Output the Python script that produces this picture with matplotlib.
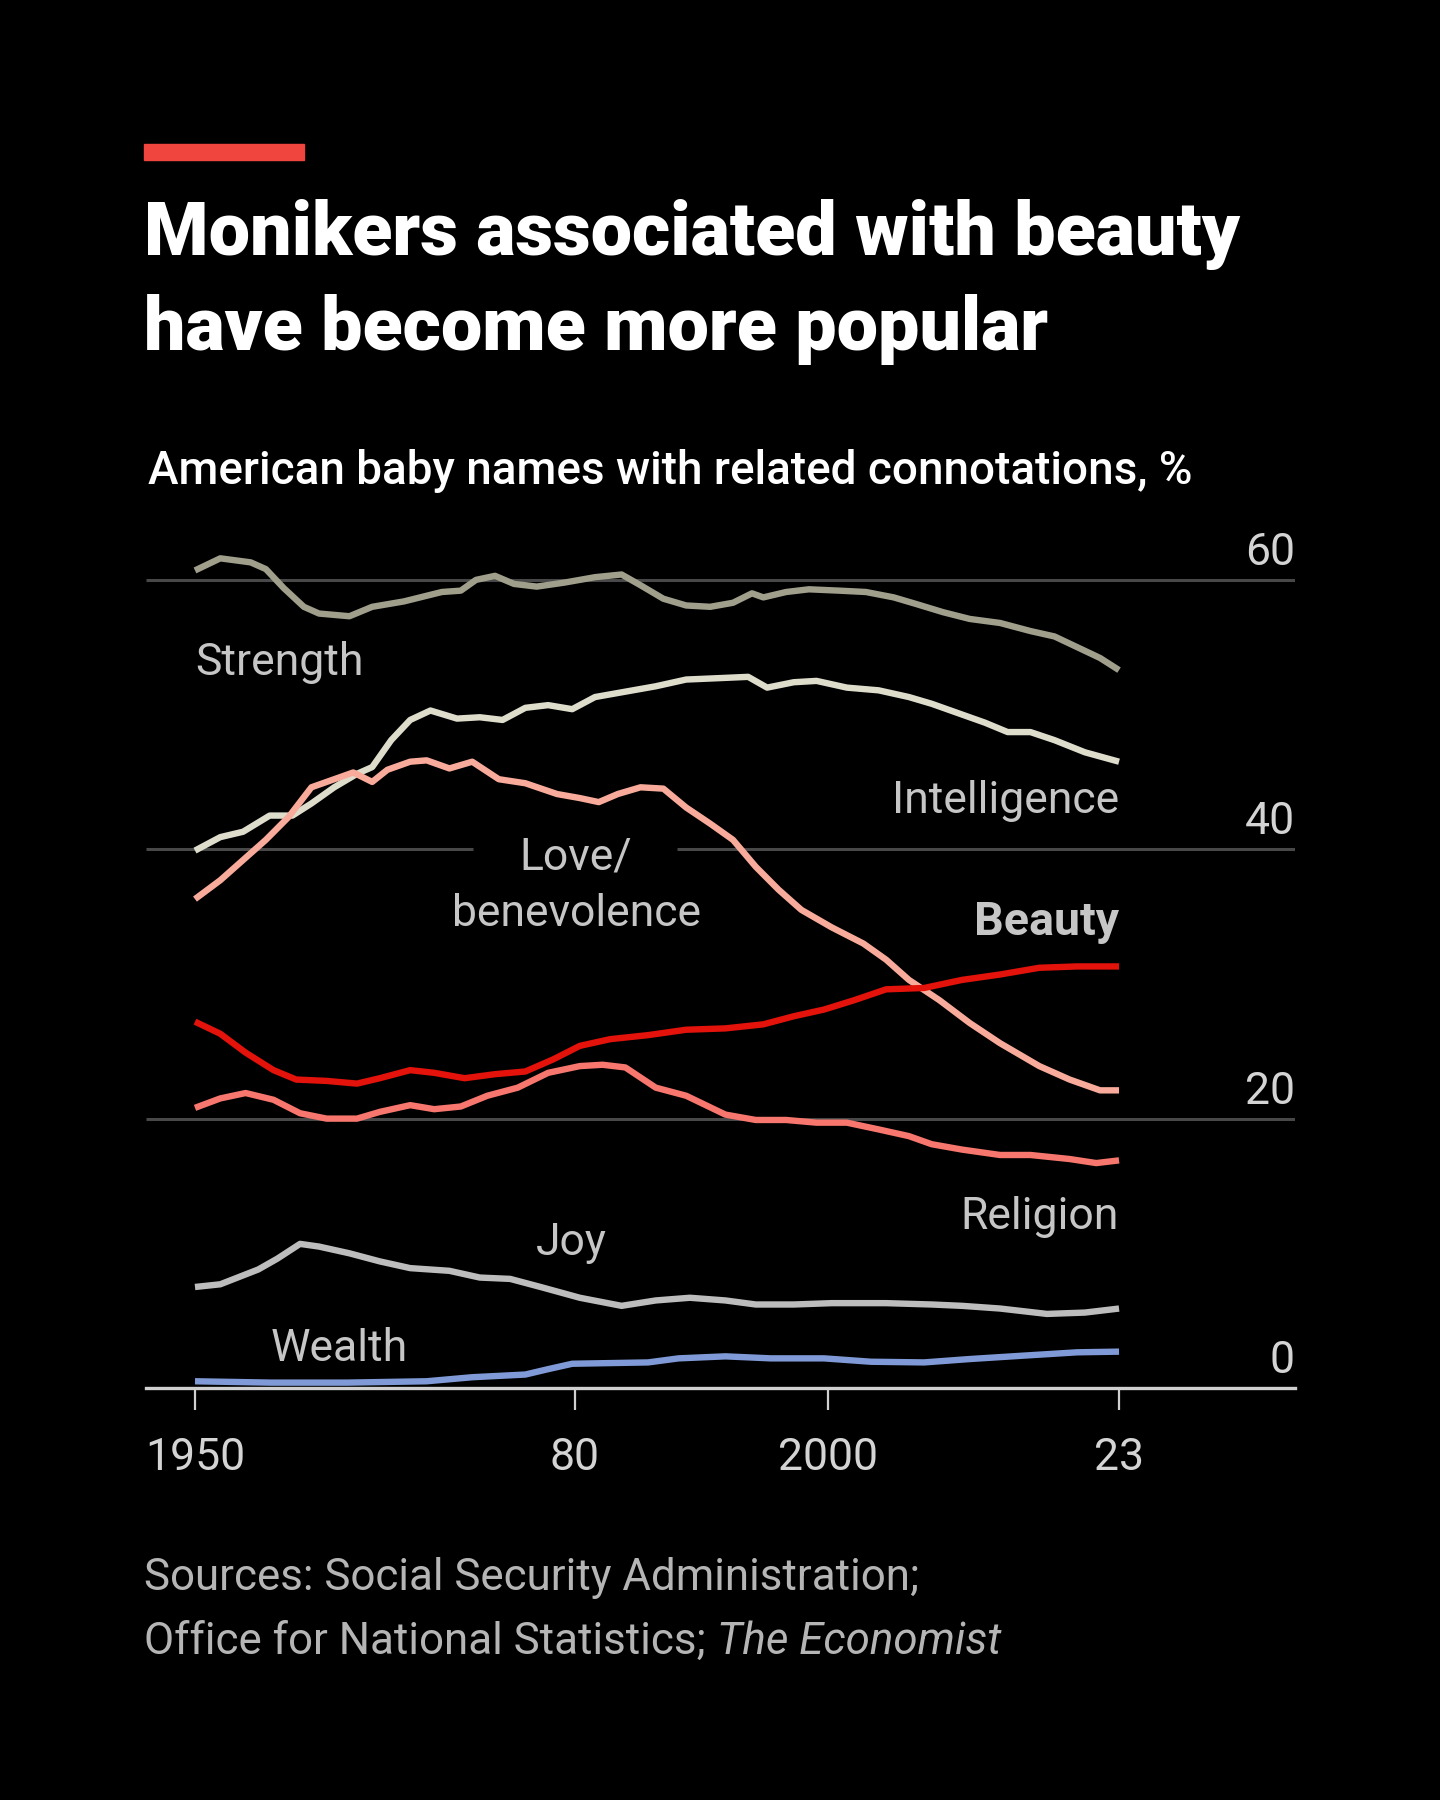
import matplotlib
matplotlib.use("Agg")
import matplotlib.pyplot as plt

# data (% of American baby names)
strength_yr = [1950, 1952, 1954.4, 1955.6, 1957, 1958.6, 1959.8, 1962.2, 1964, 1966.5, 1969.5, 1971,
               1972.2, 1973.7, 1975.2, 1977, 1979.2, 1981.6, 1983.7, 1985.2, 1987, 1988.8, 1990.7,
               1992.5, 1994, 1994.9, 1996.7, 1998.5, 2000.9, 2003, 2005.2, 2007, 2009.1, 2011.2,
               2013.6, 2016, 2017.9, 2019.7, 2021.5, 2023]
strength = [60.7, 61.6, 61.3, 60.8, 59.4, 58.0, 57.5, 57.3, 58.0, 58.4, 59.1, 59.2, 60.0, 60.3, 59.7,
            59.5, 59.8, 60.2, 60.4, 59.6, 58.6, 58.1, 58.0, 58.3, 59.0, 58.7, 59.1, 59.3, 59.2, 59.1,
            58.7, 58.2, 57.6, 57.1, 56.8, 56.2, 55.8, 55.0, 54.2, 53.3]

intel_yr = [1950, 1952, 1953.8, 1955.9, 1957.7, 1959.2, 1961, 1962.8, 1964, 1965.5, 1967, 1968.6,
            1970.7, 1972.5, 1974.3, 1976.1, 1977.9, 1979.8, 1981.6, 1984, 1986.4, 1988.8, 1991.3,
            1993.7, 1995.2, 1997.3, 1999.1, 2001.5, 2004, 2006.4, 2008.2, 2010, 2012.4, 2014.2,
            2016, 2017.9, 2020.3, 2023]
intel = [39.9, 40.9, 41.3, 42.5, 42.5, 43.4, 44.6, 45.6, 46.1, 48.1, 49.6, 50.3, 49.7, 49.8, 49.6,
         50.5, 50.7, 50.4, 51.3, 51.7, 52.1, 52.6, 52.7, 52.8, 52.0, 52.4, 52.5, 52.0, 51.8, 51.3,
         50.8, 50.2, 49.4, 48.7, 48.7, 48.1, 47.2, 46.5]

love_yr = [1950, 1952, 1953.8, 1955.6, 1957.4, 1959.2, 1961, 1962.5, 1964, 1965.2, 1967, 1968.3,
           1970.1, 1971.9, 1974, 1976.1, 1978.6, 1980.4, 1981.9, 1983.4, 1985.2, 1987, 1988.8,
           1990.7, 1992.5, 1994.3, 1996.1, 1997.9, 2000.3, 2002.8, 2004.6, 2006.4, 2008.8,
           2011.2, 2013.6, 2016.7, 2019.1, 2021.5, 2023]
love = [36.3, 37.7, 39.2, 40.7, 42.4, 44.6, 45.2, 45.7, 45.0, 45.9, 46.5, 46.6, 46.0, 46.5, 45.2,
        44.9, 44.1, 43.8, 43.5, 44.1, 44.6, 44.5, 43.1, 41.9, 40.7, 38.7, 37.0, 35.5, 34.2, 33.0,
        31.8, 30.3, 28.8, 27.1, 25.6, 23.9, 22.9, 22.1, 22.1]

beauty_yr = [1950, 1952, 1954, 1956.2, 1958, 1960.4, 1962.8, 1964.6, 1967, 1968.9, 1971.3, 1973.7,
             1976.1, 1978.3, 1980.4, 1982.8, 1985.8, 1988.8, 1991.9, 1994.9, 1997.3, 1999.7,
             2002.1, 2004.6, 2007.6, 2010.6, 2013.6, 2016.7, 2019.7, 2023]
beauty = [27.2, 26.3, 24.9, 23.6, 22.9, 22.8, 22.6, 23.0, 23.6, 23.4, 23.0, 23.3, 23.5, 24.4, 25.4,
          25.9, 26.2, 26.6, 26.7, 27.0, 27.6, 28.1, 28.8, 29.6, 29.7, 30.3, 30.7, 31.2, 31.3, 31.3]

relig_yr = [1950, 1952, 1954, 1956.2, 1958.3, 1960.4, 1962.8, 1964.6, 1967, 1968.9, 1971, 1973.1,
            1975.5, 1977.9, 1980.4, 1982.2, 1984, 1986.4, 1988.8, 1991.9, 1994.3, 1996.7, 1999.1,
            2001.5, 2004, 2006.4, 2008.2, 2010.6, 2013.6, 2016, 2019.1, 2021.2, 2023]
relig = [20.8, 21.5, 21.9, 21.4, 20.4, 20.0, 20.0, 20.5, 21.0, 20.7, 20.9, 21.7, 22.3, 23.4, 23.9,
         24.0, 23.8, 22.3, 21.7, 20.3, 19.9, 19.9, 19.7, 19.7, 19.2, 18.7, 18.1, 17.7, 17.3, 17.3,
         17.0, 16.7, 16.9]

joy_yr = [1950, 1952, 1955, 1956.5, 1958.3, 1959.8, 1962.2, 1964.6, 1967, 1970.1, 1972.5, 1974.9,
          1977.3, 1980.4, 1983.7, 1986.4, 1989.1, 1991.9, 1994.3, 1997.3, 2000.3, 2004.6, 2008.2,
          2010.6, 2013.6, 2017.3, 2020.3, 2023]
joy = [7.5, 7.7, 8.8, 9.6, 10.7, 10.5, 10.0, 9.4, 8.9, 8.7, 8.2, 8.1, 7.5, 6.7, 6.1, 6.5, 6.7, 6.5,
       6.2, 6.2, 6.3, 6.3, 6.2, 6.1, 5.9, 5.5, 5.6, 5.9]

wealth_yr = [1950, 1956, 1962, 1968.3, 1971.9, 1976.1, 1977.9, 1979.8, 1982.8, 1985.8, 1988.2,
             1991.9, 1995.5, 1999.7, 2003.4, 2007.6, 2011.2, 2015.4, 2019.7, 2023]
wealth = [0.5, 0.4, 0.4, 0.5, 0.8, 1.0, 1.4, 1.8, 1.85, 1.9, 2.2, 2.35, 2.2, 2.2, 1.95, 1.9, 2.15,
          2.4, 2.65, 2.7]

y_ticks = [0, 20, 40, 60]
x_ticks = [1950, 1980, 2000, 2023]
x_ticklabels = ["1950", "80", "2000", "23"]

NARROW = ["Roboto", "DejaVu Sans"]
BOLD = ["Roboto", "Inter", "DejaVu Sans"]
BG = "#000000"
W, H = 1440, 1800


def fx(px):
    return px / W


def fy(py):
    return 1 - py / H


def main():
    fig = plt.figure(figsize=(14.4, 18), dpi=100, facecolor=BG)

    # red tag and headings
    fig.patches.append(plt.Rectangle((fx(144), fy(160)), fx(304) - fx(144), 16 / H,
                                     transform=fig.transFigure, color="#f0443e"))
    fig.text(fx(144), fy(255), "Monikers associated with beauty", color="white",
             fontsize=53, fontweight="heavy", family=BOLD, va="baseline")
    fig.text(fx(144), fy(350), "have become more popular", color="white",
             fontsize=53, fontweight="heavy", family=BOLD, va="baseline")
    fig.text(fx(148), fy(484), "American baby names with related connotations, %", color="white",
             fontsize=33, fontweight="medium", family=BOLD, va="baseline")

    # plot area
    ax = fig.add_axes([fx(146), fy(1388), fx(1295) - fx(146), (1388 - 526) / H])
    ax.set_facecolor(BG)
    x0, x1 = 1946.13, 2036.9
    ax.set_xlim(x0, x1)
    ax.set_ylim(0, 64)
    for s in ax.spines.values():
        s.set_visible(False)

    # gridlines (gap at 40 for the love label)
    grid_c = "#484848"
    ax.hlines([60, 20], x0, x1, color=grid_c, lw=2.2, zorder=1)
    ax.hlines(40, x0, 1972.0, color=grid_c, lw=2.2, zorder=1)
    ax.hlines(40, 1988.1, x1, color=grid_c, lw=2.2, zorder=1)

    lw = 4.6
    ax.plot(strength_yr, strength, color="#a09f8c", lw=lw, zorder=3, solid_capstyle="butt")
    ax.plot(intel_yr, intel, color="#deddcc", lw=lw, zorder=3, solid_capstyle="butt")
    ax.plot(love_yr, love, color="#f9ab9b", lw=lw, zorder=3, solid_capstyle="butt")
    ax.plot(relig_yr, relig, color="#f7766d", lw=lw, zorder=3, solid_capstyle="butt")
    ax.plot(beauty_yr, beauty, color="#e3120b", lw=lw, zorder=4, solid_capstyle="butt")
    ax.plot(joy_yr, joy, color="#bdbdbd", lw=lw, zorder=3, solid_capstyle="butt")
    ax.plot(wealth_yr, wealth, color="#7f9ad6", lw=lw, zorder=3, solid_capstyle="butt")

    # baseline and ticks
    ax.axhline(0, color="#d0d0d0", lw=2.4, zorder=5, clip_on=False)
    ax.set_xticks(x_ticks)
    ax.set_xticklabels(x_ticklabels)
    ax.tick_params(axis="x", length=16, width=1.6, color="#d0d0d0", pad=19,
                   labelsize=32, labelcolor="#d4d4d4")
    for t in ax.get_xticklabels():
        t.set_family(NARROW)
    ax.set_yticks([])
    for v in y_ticks:
        ax.text(x1, v + 0.45, str(v), ha="right", va="bottom", fontsize=32,
                color="#d4d4d4", family=NARROW)

    # series labels
    lab_c = "#c6c6c6"
    ax.text(1950, 53.9, "Strength", color=lab_c, fontsize=32, family=NARROW, va="center", ha="left")
    ax.text(2023, 43.6, "Intelligence", color=lab_c, fontsize=32, family=NARROW, va="center", ha="right")
    ax.text(1980.1, 37.3, "Love/\nbenevolence", color=lab_c, fontsize=32, family=NARROW,
            va="center", ha="center", linespacing=1.42)
    ax.text(2023, 34.6, "Beauty", color=lab_c, fontsize=33.5, family=BOLD, fontweight="bold",
            va="center", ha="right")
    ax.text(2023, 12.7, "Religion", color=lab_c, fontsize=32, family=NARROW, va="center", ha="right")
    ax.text(1979.7, 10.8, "Joy", color=lab_c, fontsize=32, family=NARROW, va="center", ha="center")
    ax.text(1956, 2.9, "Wealth", color=lab_c, fontsize=32, family=NARROW, va="center", ha="left")

    # footer
    foot = 31.6
    fig.text(fx(144), fy(1590), "Sources: Social Security Administration;", color="#b5b5b5",
             fontsize=foot, family=NARROW, va="baseline")
    t1 = fig.text(fx(144), fy(1654), "Office for National Statistics; ", color="#b5b5b5",
                  fontsize=foot, family=NARROW, va="baseline")
    fig.canvas.draw()
    bb = t1.get_window_extent()
    fig.text(bb.x1 / W, fy(1654), "The Economist", color="#b5b5b5", fontsize=foot,
             family=NARROW, style="italic", va="baseline")

    plt.savefig("out.png", dpi=100, facecolor=BG)


if __name__ == "__main__":
    main()
